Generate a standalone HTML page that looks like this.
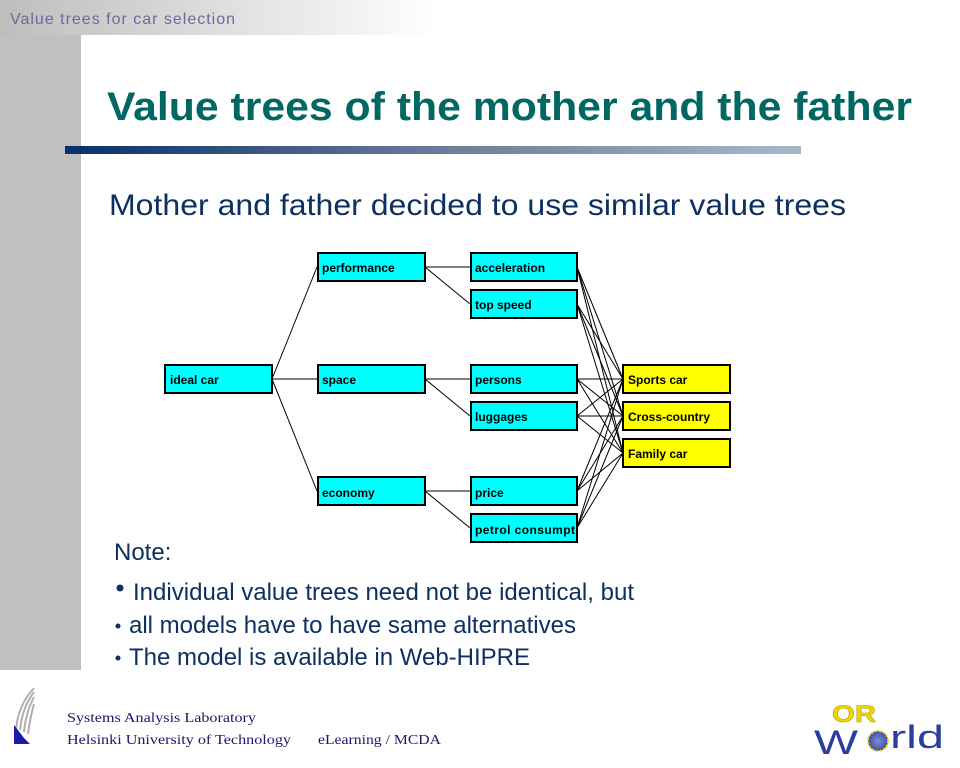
<!DOCTYPE html>
<html><head><meta charset="utf-8"><style>
html,body{margin:0;padding:0;background:#fff;}
svg{display:block;}
</style></head><body>
<svg width="960" height="768" xmlns="http://www.w3.org/2000/svg" font-family="Liberation Sans, Arial, sans-serif">
<defs>
<linearGradient id="top" x1="0" x2="1" y1="0" y2="0"><stop offset="0" stop-color="#bdbdbd"/><stop offset="1" stop-color="#ffffff"/></linearGradient>
<linearGradient id="bar" x1="0" x2="1" y1="0" y2="0"><stop offset="0" stop-color="#06306a"/><stop offset="0.5" stop-color="#6a7a98"/><stop offset="1" stop-color="#a8b8cc"/></linearGradient>
<radialGradient id="globe"><stop offset="0" stop-color="#8090d0"/><stop offset="1" stop-color="#3a4ea8"/></radialGradient>
</defs>
<rect x="0" y="0" width="440" height="35" fill="url(#top)"/>
<rect x="0" y="35" width="81" height="635" fill="#c0c0c0"/>
<text x="10" y="24" font-size="16" fill="#6b6b9e" textLength="225">Value trees for car selection</text>
<text x="107" y="120" font-size="40" font-weight="bold" fill="#006763" textLength="805" lengthAdjust="spacingAndGlyphs">Value trees of the mother and the father</text>
<rect x="65" y="146" width="736" height="8" fill="url(#bar)"/>
<text x="109" y="215" font-size="30" fill="#0d3060" textLength="737" lengthAdjust="spacingAndGlyphs">Mother and father decided to use similar value trees</text>

<g stroke="#000" stroke-width="1" fill="none">
<line x1="272" y1="379" x2="317" y2="267"/>
<line x1="272" y1="379" x2="317" y2="379"/>
<line x1="272" y1="379" x2="317" y2="491"/>
<line x1="425" y1="267" x2="470" y2="267"/><line x1="425" y1="267" x2="470" y2="304"/>
<line x1="425" y1="379" x2="470" y2="379"/><line x1="425" y1="379" x2="470" y2="416"/>
<line x1="425" y1="491" x2="470" y2="491"/><line x1="425" y1="491" x2="470" y2="528"/>
<g>
<line x1="577" y1="267" x2="623" y2="379"/><line x1="577" y1="267" x2="623" y2="416"/><line x1="577" y1="267" x2="623" y2="453"/>
<line x1="577" y1="304" x2="623" y2="379"/><line x1="577" y1="304" x2="623" y2="416"/><line x1="577" y1="304" x2="623" y2="453"/>
<line x1="577" y1="379" x2="623" y2="379"/><line x1="577" y1="379" x2="623" y2="416"/><line x1="577" y1="379" x2="623" y2="453"/>
<line x1="577" y1="416" x2="623" y2="379"/><line x1="577" y1="416" x2="623" y2="416"/><line x1="577" y1="416" x2="623" y2="453"/>
<line x1="577" y1="491" x2="623" y2="379"/><line x1="577" y1="491" x2="623" y2="416"/><line x1="577" y1="491" x2="623" y2="453"/>
<line x1="577" y1="528" x2="623" y2="379"/><line x1="577" y1="528" x2="623" y2="416"/><line x1="577" y1="528" x2="623" y2="453"/>
</g>
</g>
<g stroke="#000" stroke-width="2" font-size="12" font-weight="bold">
<rect x="165" y="365" width="107" height="28" fill="#00ffff"/>
<rect x="318" y="253" width="107" height="28" fill="#00ffff"/>
<rect x="318" y="365" width="107" height="28" fill="#00ffff"/>
<rect x="318" y="477" width="107" height="28" fill="#00ffff"/>
<rect x="471" y="253" width="106" height="28" fill="#00ffff"/>
<rect x="471" y="290" width="106" height="28" fill="#00ffff"/>
<rect x="471" y="365" width="106" height="28" fill="#00ffff"/>
<rect x="471" y="402" width="106" height="28" fill="#00ffff"/>
<rect x="471" y="477" width="106" height="28" fill="#00ffff"/>
<rect x="471" y="514" width="106" height="28" fill="#00ffff"/>
<rect x="623" y="365" width="107" height="28" fill="#ffff00"/>
<rect x="623" y="402" width="107" height="28" fill="#ffff00"/>
<rect x="623" y="439" width="107" height="28" fill="#ffff00"/>
</g>
<g font-size="12" font-weight="bold" fill="#000">
<text x="170" y="384">ideal car</text>
<text x="322" y="272">performance</text>
<text x="322" y="384">space</text>
<text x="322" y="497">economy</text>
<text x="475" y="272">acceleration</text>
<text x="475" y="309">top speed</text>
<text x="475" y="384">persons</text>
<text x="475" y="421">luggages</text>
<text x="475" y="497">price</text>
<text x="475" y="534" textLength="100">petrol consumpt</text>
<text x="628" y="384">Sports car</text>
<text x="628" y="421">Cross-country</text>
<text x="628" y="458">Family car</text>
</g>

<g fill="#0d3060" font-size="24">
<text x="114" y="560">Note:</text>
<circle cx="120" cy="588" r="3.5"/>
<text x="133" y="600" textLength="501" lengthAdjust="spacingAndGlyphs">Individual value trees need not be identical, but</text>
<circle cx="118" cy="626" r="2.5"/>
<text x="129" y="633" textLength="447" lengthAdjust="spacingAndGlyphs">all models have to have same alternatives</text>
<circle cx="118" cy="658" r="2.5"/>
<text x="129" y="665" textLength="401" lengthAdjust="spacingAndGlyphs">The model is available in Web-HIPRE</text>
</g>

<g stroke="#b0b0b0" stroke-width="2" fill="none">
<path d="M16 730 Q18 705 34 688"/>
<path d="M20 730 Q22 708 34 692"/>
<path d="M24 732 Q26 712 34 697"/>
<path d="M28 734 Q30 718 34 704"/>
</g>
<path d="M14 725 L24 738 L30 744 L14 744 Z" fill="#1a1aa8"/>
<g font-family="Liberation Serif, serif" font-size="14" fill="#1a1a6a">
<text x="67" y="722" textLength="189" lengthAdjust="spacingAndGlyphs">Systems Analysis Laboratory</text>
<text x="67" y="744" textLength="224" lengthAdjust="spacingAndGlyphs">Helsinki University of Technology</text>
<text x="318" y="744" textLength="123" lengthAdjust="spacingAndGlyphs">eLearning / MCDA</text>
</g>
<text x="832" y="722" font-size="24" font-weight="bold" fill="#f2d500" stroke="#b8a000" stroke-width="0.6" textLength="44" lengthAdjust="spacingAndGlyphs">OR</text>
<text x="814" y="754" font-size="34" fill="#2a3e9e" textLength="44" lengthAdjust="spacingAndGlyphs">W</text>
<circle cx="878" cy="741" r="10" fill="url(#globe)" stroke="#f2d500" stroke-width="2" stroke-dasharray="2 2"/>
<text x="890" y="748" font-size="32" fill="#2a3e9e" textLength="54" lengthAdjust="spacingAndGlyphs">rld</text>
</svg>
</body></html>
